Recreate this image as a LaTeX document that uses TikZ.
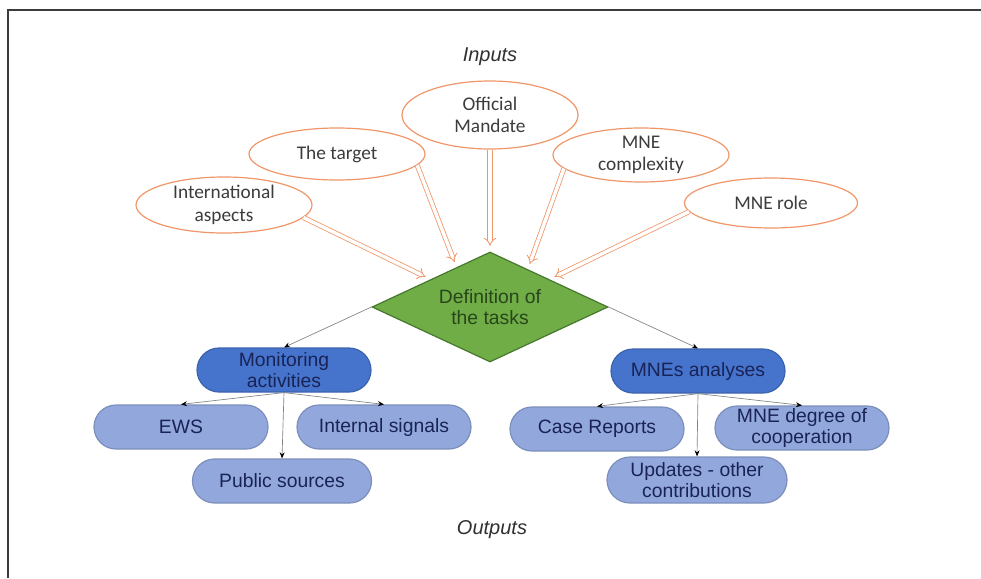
\documentclass[tikz,border=0pt]{standalone}
\usepackage{fontspec}
\setmainfont{Liberation Sans}
\newfontfamily\ellfont{Carlito}
\usetikzlibrary{arrows.meta,shapes.geometric,shapes.misc}
\definecolor{apricot}{RGB}{240,150,105}
\definecolor{moss}{RGB}{112,173,71}
\definecolor{pine}{RGB}{70,120,45}
\definecolor{forest}{RGB}{40,70,25}
\definecolor{azure}{RGB}{70,116,204}
\definecolor{haze}{RGB}{146,168,220}
\definecolor{navy}{RGB}{25,35,85}
\definecolor{slate}{RGB}{60,60,60}
\definecolor{ash}{RGB}{130,130,130}
\newdimen\pxu \pxu=0.75pt
\tikzset{
  >={Stealth[length=1.6mm,width=1.3mm,color=black]},
  input/.style={ellipse,draw=apricot,fill=white,line width=0.9pt,inner sep=0pt,
    minimum width=176\pxu,minimum height=52\pxu,align=center,text=slate,
    font=\ellfont\fontsize{14.5}{17}\selectfont},
  decide/.style={diamond,draw=pine,fill=moss,line width=0.9pt,inner sep=0pt,aspect=2.15,
    minimum width=236\pxu,minimum height=110\pxu,align=center,text=forest,
    font=\fontsize{14.5}{16}\selectfont},
  pill/.style={rounded rectangle,draw=#1!85!black,fill=#1,line width=0.9pt,inner sep=0pt,
    minimum width=174\pxu,minimum height=44\pxu,align=center,text=navy,
    font=\fontsize{14.5}{16}\selectfont},
  pill/.default=azure,
  feed/.style={draw=apricot,double=white,double distance=2.6pt,line width=0.6pt,
    -{Implies},shorten >=4pt},
  flow/.style={->,draw=ash,line width=0.5pt},
  caption/.style={font=\itshape\fontsize{15}{17}\selectfont,text=slate!80!black},
}
\begin{document}
\begin{tikzpicture}[x=\pxu,y=-\pxu]
  \useasboundingbox (0,0) rectangle (981,578);
  \draw[line width=1.6\pxu,draw=slate] (8,578) -- (8,10) -- (981,10);
  \node[caption] (inputs) at (490,57) {Inputs};
  \node[caption] (outputs) at (492,530) {Outputs};
  % inputs
  \node[input,minimum height=68\pxu] (mandate) at (490,115) {Official\\Mandate};
  \node[input] (target) at (337,154) {The target};
  \node[input,minimum height=56\pxu] (intl) at (224,205) {International\\aspects};
  \node[input] (complex) at (641,155) {MNE\\complexity};
  \node[input,minimum width=173\pxu,minimum height=50\pxu] (role) at (771,203) {MNE role};
  \node[decide] (task) at (490,307) {Definition of\\the tasks};
  \draw[feed] (intl.-9) -- (task.155);
  \draw[feed] (target.-8) -- (task.130);
  \draw[feed] (mandate.south) -- (task.north);
  \draw[feed] (complex.190) -- (task.45);
  \draw[feed] (role.186) -- (task.25);
  % outputs
  \node[pill] (monitor) at (284,370) {Monitoring\\activities};
  \node[pill] (mnes) at (698,371) {MNEs analyses};
  \node[pill=haze] (ews) at (181,427) {EWS};
  \node[pill=haze] (internal) at (384,427) {Internal signals};
  \node[pill=haze,minimum width=179\pxu] (public) at (282,481) {Public sources};
  \node[pill=haze] (cases) at (597,429) {Case Reports};
  \node[pill=haze] (degree) at (802,428) {MNE degree of\\cooperation};
  \node[pill=haze,minimum width=180\pxu,minimum height=46\pxu] (updates) at (697,480) {Updates - other\\contributions};
  \draw[flow] (task.west) -- (monitor.north);
  \draw[flow] (task.east) -- (mnes.north);
  \foreach \kid in {ews,internal,public}
    \draw[flow] (monitor.south) -- (\kid.north);
  \foreach \kid in {cases,degree,updates}
    \draw[flow] (mnes.south) -- (\kid.north);
\end{tikzpicture}
\end{document}
